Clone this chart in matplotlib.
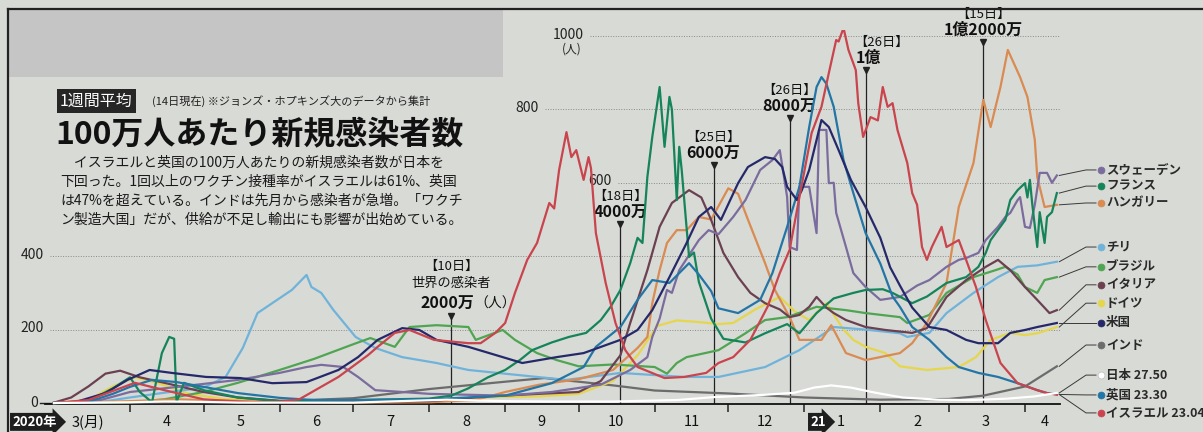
import numpy as np
import pandas as pd
import matplotlib
matplotlib.use("Agg")
import matplotlib.pyplot as plt
import matplotlib.dates as mdates
from matplotlib.patches import Rectangle

plt.rcParams['font.family'] = ['Noto Sans CJK JP', 'DejaVu Sans']

W, H = 1203, 432
BG = '#d8dad6'

# ---- data: 1-week average of new cases per million ----
israel_d = ["2020-03-01", "2020-03-15", "2020-04-03", "2020-04-15", "2020-05-01", "2020-05-20", "2020-06-01",
            "2020-06-09", "2020-06-25", "2020-07-07", "2020-07-11", "2020-07-18", "2020-07-24", "2020-08-03",
            "2020-08-17", "2020-08-22", "2020-08-28", "2020-09-01", "2020-09-05", "2020-09-10", "2020-09-14",
            "2020-09-19", "2020-09-21", "2020-09-23", "2020-09-26", "2020-09-28", "2020-09-30", "2020-10-03",
            "2020-10-05", "2020-10-06", "2020-10-08", "2020-10-12", "2020-10-16", "2020-10-20", "2020-10-25",
            "2020-11-05", "2020-11-13", "2020-11-22", "2020-11-27", "2020-12-03", "2020-12-10", "2020-12-17",
            "2020-12-22", "2020-12-26", "2020-12-30", "2021-01-04", "2021-01-08", "2021-01-11", "2021-01-14",
            "2021-01-15", "2021-01-17", "2021-01-19", "2021-01-22", "2021-01-23", "2021-01-25", "2021-01-28",
            "2021-01-31", "2021-02-02", "2021-02-04", "2021-02-06", "2021-02-08", "2021-02-12", "2021-02-14",
            "2021-02-16", "2021-02-18", "2021-02-20", "2021-02-22", "2021-02-26", "2021-02-28", "2021-03-05",
            "2021-03-08", "2021-03-12", "2021-03-16", "2021-03-22", "2021-03-29", "2021-04-06", "2021-04-10",
            "2021-04-14"]
israel_v = [0, 8, 55, 35, 10, 2, 3,
            10, 71, 130, 153, 191, 199, 172,
            163, 163, 191, 218, 300, 390, 436,
            545, 530, 635, 738, 670, 689, 608,
            670, 640, 463, 327, 218, 144, 98,
            68, 71, 82, 109, 125, 172, 262,
            354, 417, 561, 736, 807, 899, 989,
            985, 1022, 962, 907, 817, 725, 779,
            770, 861, 807, 817, 744, 654, 572,
            540, 425, 390, 425, 480, 425, 444,
            390, 316, 226, 109, 54, 35, 27,
            23.04]

uk_d = ["2020-03-01", "2020-03-15", "2020-03-25", "2020-04-01", "2020-04-10", "2020-04-20", "2020-05-01",
        "2020-05-15", "2020-06-01", "2020-06-15", "2020-07-01", "2020-08-01", "2020-09-01", "2020-09-20",
        "2020-10-03", "2020-10-08", "2020-10-18", "2020-10-25", "2020-10-31", "2020-11-07", "2020-11-15",
        "2020-11-19", "2020-11-24", "2020-11-27", "2020-12-05", "2020-12-14", "2020-12-19", "2020-12-25",
        "2020-12-30", "2021-01-03", "2021-01-06", "2021-01-08", "2021-01-10", "2021-01-13", "2021-01-17",
        "2021-01-21", "2021-01-26", "2021-02-01", "2021-02-06", "2021-02-09", "2021-02-14", "2021-02-21",
        "2021-02-28", "2021-03-05", "2021-03-13", "2021-03-21", "2021-03-29", "2021-04-06", "2021-04-10",
        "2021-04-14"]
uk_v = [0, 3, 25, 44, 63, 57, 44,
        27, 14, 8, 8, 10, 20, 54,
        98, 153, 207, 281, 335, 327, 381,
        350, 305, 258, 245, 281, 354, 480,
        589, 752, 861, 888, 870, 807, 662,
        572, 463, 380, 290, 262, 207, 172,
        125, 98, 82, 71, 54, 35, 27,
        23.3]

japan_d = ["2020-03-01", "2020-04-01", "2020-04-15", "2020-05-01", "2020-05-15", "2020-07-01", "2020-07-20",
           "2020-08-08", "2020-09-01", "2020-09-20", "2020-10-15", "2020-11-10", "2020-11-25", "2020-12-15",
           "2020-12-28", "2021-01-05", "2021-01-12", "2021-01-20", "2021-01-30", "2021-02-10", "2021-02-25",
           "2021-03-10", "2021-03-25", "2021-04-05", "2021-04-14"]
japan_v = [0, 2, 4, 3, 1, 1, 5,
           9, 5, 4, 4, 8, 16, 22,
           28, 42, 48, 42, 28, 15, 9,
           8, 12, 18, 27.5]

india_d = ["2020-03-01", "2020-04-01", "2020-05-01", "2020-06-01", "2020-07-01", "2020-08-01", "2020-09-01",
           "2020-09-17", "2020-10-01", "2020-10-15", "2020-11-01", "2020-12-01", "2021-01-01", "2021-02-01",
           "2021-03-01", "2021-03-15", "2021-04-01", "2021-04-14"]
india_v = [0, 1, 2, 5, 13, 38, 58,
           68, 58, 48, 34, 26, 15, 9,
           11, 20, 45, 100]

chile_d = ["2020-03-01", "2020-03-20", "2020-04-01", "2020-04-15", "2020-05-01", "2020-05-10", "2020-05-17",
           "2020-05-23", "2020-05-29", "2020-06-06", "2020-06-12", "2020-06-14", "2020-06-18", "2020-06-23",
           "2020-07-02", "2020-07-10", "2020-07-21", "2020-08-04", "2020-08-17", "2020-09-14", "2020-09-26",
           "2020-10-18", "2020-11-13", "2020-11-27", "2020-12-16", "2020-12-30", "2021-01-13", "2021-01-26",
           "2021-02-09", "2021-02-12", "2021-02-21", "2021-02-28", "2021-03-11", "2021-03-21", "2021-03-29",
           "2021-04-06", "2021-04-14"]
chile_v = [0, 3, 15, 28, 42, 71, 150,
           245, 272, 308, 349, 316, 300, 253,
           180, 150, 125, 109, 90, 71, 63,
           82, 71, 71, 98, 144, 207, 200,
           190, 180, 191, 245, 300, 343, 371,
           375, 385]

brazil_d = ["2020-03-01", "2020-04-01", "2020-04-15", "2020-05-01", "2020-05-15", "2020-06-01", "2020-06-15",
            "2020-07-01", "2020-07-08", "2020-07-18", "2020-07-24", "2020-08-04", "2020-08-17", "2020-08-20",
            "2020-08-31", "2020-09-05", "2020-09-14", "2020-09-22", "2020-10-01", "2020-10-15", "2020-11-01",
            "2020-11-06", "2020-11-10", "2020-11-14", "2020-11-27", "2020-12-08", "2020-12-16", "2020-12-25",
            "2021-01-06", "2021-01-18", "2021-01-26", "2021-02-09", "2021-02-12", "2021-02-21", "2021-02-28",
            "2021-03-11", "2021-03-20", "2021-03-24", "2021-03-29", "2021-04-01", "2021-04-06", "2021-04-09",
            "2021-04-14"]
brazil_v = [0, 2, 10, 30, 55, 90, 120,
            160, 177, 153, 207, 212, 207, 172,
            199, 172, 136, 117, 100, 105, 98,
            80, 109, 125, 144, 190, 226, 234,
            262, 253, 245, 234, 218, 240, 300,
            343, 362, 371, 350, 316, 300, 335,
            343]

germany_d = ["2020-03-01", "2020-03-15", "2020-03-25", "2020-04-03", "2020-04-12", "2020-04-25", "2020-05-10",
             "2020-06-01", "2020-07-01", "2020-08-01", "2020-08-20", "2020-09-15", "2020-10-01", "2020-10-15",
             "2020-10-25", "2020-11-02", "2020-11-10", "2020-11-20", "2020-11-27", "2020-12-03", "2020-12-12",
             "2020-12-22", "2020-12-28", "2021-01-03", "2021-01-10", "2021-01-17", "2021-01-21", "2021-01-26",
             "2021-02-03", "2021-02-09", "2021-02-20", "2021-03-05", "2021-03-12", "2021-03-18", "2021-03-26",
             "2021-04-01", "2021-04-06", "2021-04-14"]
germany_v = [0, 8, 45, 70, 55, 25, 10,
             6, 5, 8, 15, 18, 25, 60,
             130, 210, 225, 220, 215, 218, 255,
             289, 250, 226, 272, 200, 172, 153,
             136, 100, 90, 98, 125, 172, 191,
             185, 190, 207]

italy_d = ["2020-03-01", "2020-03-08", "2020-03-15", "2020-03-22", "2020-03-28", "2020-04-05", "2020-04-15",
           "2020-05-01", "2020-05-15", "2020-06-01", "2020-07-01", "2020-08-01", "2020-08-25", "2020-09-15",
           "2020-10-01", "2020-10-10", "2020-10-18", "2020-10-22", "2020-10-29", "2020-11-03", "2020-11-08",
           "2020-11-15", "2020-11-20", "2020-11-24", "2020-11-29", "2020-12-05", "2020-12-10", "2020-12-16",
           "2020-12-22", "2020-12-26", "2020-12-30", "2021-01-03", "2021-01-06", "2021-01-10", "2021-01-13",
           "2021-01-18", "2021-01-26", "2021-02-03", "2021-02-14", "2021-02-20", "2021-02-28", "2021-03-08",
           "2021-03-16", "2021-03-21", "2021-03-26", "2021-04-01", "2021-04-06", "2021-04-11", "2021-04-14"]
italy_v = [1, 15, 45, 80, 88, 70, 55,
           30, 15, 6, 3, 5, 18, 25,
           30, 60, 130, 218, 362, 480, 545,
           580, 560, 499, 409, 343, 300, 272,
           255, 234, 240, 262, 289, 260, 245,
           226, 207, 199, 191, 204, 289, 335,
           371, 390, 362, 316, 281, 245, 253]

sweden_d = ["2020-03-01", "2020-03-20", "2020-04-01", "2020-04-15", "2020-05-01", "2020-05-15", "2020-06-01",
            "2020-06-12", "2020-06-18", "2020-06-27", "2020-07-03", "2020-07-10", "2020-08-01", "2020-09-01",
            "2020-09-20", "2020-10-10", "2020-10-22", "2020-10-29", "2020-10-31", "2020-11-03", "2020-11-06",
            "2020-11-08", "2020-11-11", "2020-11-19", "2020-11-23", "2020-11-27", "2020-12-03", "2020-12-08",
            "2020-12-14", "2020-12-19", "2020-12-22", "2020-12-25", "2020-12-26", "2020-12-29", "2020-12-30",
            "2021-01-03", "2021-01-06", "2021-01-07", "2021-01-10", "2021-01-11", "2021-01-13", "2021-01-14",
            "2021-01-18", "2021-01-21", "2021-01-26", "2021-02-01", "2021-02-09", "2021-02-16", "2021-02-21",
            "2021-02-28", "2021-03-05", "2021-03-08", "2021-03-13", "2021-03-16", "2021-03-21", "2021-03-24",
            "2021-03-26", "2021-03-29", "2021-03-30", "2021-04-01", "2021-04-03", "2021-04-05", "2021-04-07",
            "2021-04-10", "2021-04-12", "2021-04-14"]
sweden_v = [0, 8, 30, 40, 52, 63, 82,
            98, 104, 98, 71, 35, 25, 20,
            30, 50, 90, 125, 180, 230, 308,
            300, 362, 444, 471, 460, 507, 553,
            635, 662, 689, 561, 425, 417, 589,
            589, 463, 744, 744, 599, 600, 518,
            425, 354, 316, 281, 289, 320, 335,
            371, 390, 395, 409, 444, 480, 507,
            518, 553, 561, 480, 477, 540, 627,
            627, 600, 620]

france_d = ["2020-03-01", "2020-03-15", "2020-03-25", "2020-04-01", "2020-04-05", "2020-04-10", "2020-04-12",
            "2020-04-14", "2020-04-17", "2020-04-19", "2020-04-20", "2020-04-23", "2020-05-01", "2020-05-15",
            "2020-06-01", "2020-07-01", "2020-08-01", "2020-08-10", "2020-08-17", "2020-08-25", "2020-09-01",
            "2020-09-07", "2020-09-12", "2020-09-20", "2020-09-27", "2020-10-04", "2020-10-10", "2020-10-14",
            "2020-10-18", "2020-10-22", "2020-10-25", "2020-10-27", "2020-10-29", "2020-10-31", "2020-11-03",
            "2020-11-05", "2020-11-07", "2020-11-08", "2020-11-10", "2020-11-11", "2020-11-12", "2020-11-15",
            "2020-11-17", "2020-11-19", "2020-11-24", "2020-11-29", "2020-12-08", "2020-12-16", "2020-12-25",
            "2020-12-30", "2021-01-06", "2021-01-13", "2021-01-21", "2021-01-26", "2021-02-02", "2021-02-06",
            "2021-02-14", "2021-02-20", "2021-02-28", "2021-03-08", "2021-03-13", "2021-03-16", "2021-03-18",
            "2021-03-24", "2021-03-26", "2021-03-29", "2021-04-01", "2021-04-02", "2021-04-03", "2021-04-04",
            "2021-04-06", "2021-04-07", "2021-04-09", "2021-04-10", "2021-04-12", "2021-04-14"]
france_v = [0, 5, 40, 70, 30, 2, 70,
            136, 180, 175, 3, 55, 35, 15,
            5, 8, 12, 20, 40, 70, 90,
            117, 144, 165, 180, 191, 226, 262,
            308, 381, 450, 436, 616, 725, 861,
            698, 834, 800, 553, 698, 635, 398,
            410, 330, 230, 175, 165, 190, 215,
            190, 245, 285, 300, 308, 310, 300,
            272, 290, 327, 343, 371, 409, 444,
            499, 553, 580, 599, 560, 608, 540,
            425, 520, 436, 507, 520, 572]

us_d = ["2020-03-01", "2020-03-09", "2020-03-22", "2020-03-31", "2020-04-09", "2020-04-18", "2020-05-02",
        "2020-05-16", "2020-05-29", "2020-06-12", "2020-06-25", "2020-07-03", "2020-07-11", "2020-07-21",
        "2020-07-28", "2020-08-04", "2020-08-17", "2020-08-31", "2020-09-08", "2020-09-22", "2020-10-03",
        "2020-10-18", "2020-10-25", "2020-10-31", "2020-11-07", "2020-11-14", "2020-11-19", "2020-11-24",
        "2020-11-28", "2020-12-05", "2020-12-09", "2020-12-16", "2020-12-20", "2020-12-23", "2020-12-25",
        "2020-12-29", "2020-12-31", "2021-01-03", "2021-01-07", "2021-01-08", "2021-01-11", "2021-01-15",
        "2021-01-20", "2021-01-26", "2021-02-01", "2021-02-05", "2021-02-09", "2021-02-14", "2021-02-21",
        "2021-02-28", "2021-03-08", "2021-03-13", "2021-03-21", "2021-03-26", "2021-04-01", "2021-04-06",
        "2021-04-14"]
us_v = [0, 1, 27, 63, 90, 82, 71,
        68, 54, 57, 90, 125, 172, 204,
        199, 172, 153, 125, 109, 125, 136,
        172, 199, 253, 343, 436, 507, 534,
        499, 599, 643, 670, 665, 643, 589,
        553, 580, 635, 744, 771, 752, 689,
        608, 534, 450, 370, 320, 260, 207,
        199, 172, 163, 163, 191, 199, 207,
        218]

hungary_d = ["2020-03-01", "2020-04-01", "2020-04-20", "2020-05-01", "2020-06-01", "2020-07-01", "2020-08-01",
             "2020-08-20", "2020-09-01", "2020-09-15", "2020-10-01", "2020-10-15", "2020-10-25", "2020-10-29",
             "2020-10-31", "2020-11-03", "2020-11-06", "2020-11-10", "2020-11-14", "2020-11-19", "2020-11-24",
             "2020-12-01", "2020-12-05", "2020-12-09", "2020-12-16", "2020-12-20", "2020-12-26", "2020-12-30",
             "2021-01-08", "2021-01-12", "2021-01-18", "2021-01-26", "2021-02-09", "2021-02-14", "2021-02-20",
             "2021-02-28", "2021-03-05", "2021-03-11", "2021-03-15", "2021-03-18", "2021-03-20", "2021-03-22",
             "2021-03-25", "2021-03-30", "2021-04-02", "2021-04-05", "2021-04-06", "2021-04-09", "2021-04-14"]
hungary_v = [0, 5, 10, 8, 3, 1, 2,
             8, 30, 50, 65, 90, 150, 180,
             272, 362, 436, 471, 471, 507, 500,
             585, 570, 500, 381, 308, 234, 172,
             172, 212, 136, 117, 136, 163, 218,
             327, 534, 654, 826, 752, 807, 861,
             962, 888, 834, 717, 616, 534, 540]

# name, dates, values, colour, label y (people scale, only for layout)
countries = [
    ("スウェーデン", sweden_d, sweden_v, "#7b6c9e", 635),
    ("フランス", france_d, france_v, "#15845a", 591),
    ("ハンガリー", hungary_d, hungary_v, "#d98b52", 545),
    ("チリ", chile_d, chile_v, "#70b3da", 425),
    ("ブラジル", brazil_d, brazil_v, "#4fa552", 371),
    ("イタリア", italy_d, italy_v, "#6b4050", 322),
    ("ドイツ", germany_d, germany_v, "#e5d64c", 272),
    ("米国", us_d, us_v, "#25296a", 218),
    ("インド", india_d, india_v, "#6c6c6c", 158),
    ("日本 27.50", japan_d, japan_v, "#ffffff", 76),
    ("英国 23.30", uk_d, uk_v, "#2275a5", 22),
    ("イスラエル 23.04", israel_d, israel_v, "#c9444d", -27),
]
draw_order = ["インド", "ドイツ", "チリ", "ブラジル", "ハンガリー", "イタリア", "スウェーデン",
              "フランス", "英国 23.30", "米国", "イスラエル 23.04", "日本 27.50"]

events_d = ["2020-08-10", "2020-10-18", "2020-11-25", "2020-12-26", "2021-01-26", "2021-03-15"]
events_day = ["【10日】", "【18日】", "【25日】", "【26日】", "【26日】", "【15日】"]
events_total = ["2000万", "4000万", "6000万", "8000万", "1億", "1億2000万"]
events_top = [237, 488, 649, 777, 907, 984]

month_starts = pd.date_range("2020-04-01", "2021-04-01", freq="MS")
month_labels = ["4", "5", "6", "7", "8", "9", "10", "11", "12", "1", "2", "3"]

# ---- mapping between reference pixels and data (for layout only) ----
APR1 = mdates.date2num(pd.Timestamp("2020-04-01"))
PX_PER_DAY = 2.452


def px2x(p):
    return APR1 + (p - 130) / PX_PER_DAY


def fig_text(px, py, s, **kw):
    return fig.text(px / W, 1 - py / H, s, **kw)


fig = plt.figure(figsize=(W / 100, H / 100), dpi=100, facecolor=BG)
ax = fig.add_axes([45 / W, (H - 405) / H, (1060 - 45) / W, (405 - 30) / H])
ax.set_facecolor(BG)
ax.set_xlim(px2x(45), px2x(1060))
ax.set_ylim((403 - 405) / 0.367, (403 - 30) / 0.367)

# frame + grey box in the top-left corner
fig.patches.append(Rectangle((9 / W, 1 - 77 / H), (503 - 9) / W, (77 - 9) / H,
                             transform=fig.transFigure, fc="#c5c5c5", ec="none", zorder=0))
fig.add_artist(plt.Line2D([8 / W, 1], [1 - 9 / H, 1 - 9 / H], color="#222222", lw=1.6))
fig.add_artist(plt.Line2D([8 / W, 8 / W], [0, 1 - 9 / H], color="#222222", lw=1.6))

# y grid (dotted) and labels
grid_vals = [200, 400, 600, 800, 1000]
grid_start = [50, 50, 618, 545, 590]
for v, s in zip(grid_vals, grid_start):
    ax.plot([px2x(s), px2x(1060)], [v, v], color="#8a8a8a", lw=0.7, ls=(0, (1, 1.6)), zorder=1)
    ax.text(px2x(s - 6), v + 4, str(v), ha="right", va="center", fontsize=10, color="#222222", clip_on=False)
ax.text(px2x(572), 1000 - 36, "(人)", ha="center", va="center", fontsize=8.5, color="#222222")
ax.plot([px2x(40), px2x(52)], [0, 0], color="#222222", lw=1.0, clip_on=False)
ax.text(px2x(38), 0, "0", ha="right", va="center", fontsize=10, color="#222222", clip_on=False)

# event markers
for d, day, tot, top in zip(events_d, events_day, events_total, events_top):
    x = mdates.date2num(pd.Timestamp(d))
    ax.plot([x, x], [0, top], color="#222222", lw=0.9, zorder=2)
    ax.plot(x, top, marker="v", ms=4, color="#222222", zorder=2)
    if day == "【10日】":
        ax.annotate("2000万", (x, top), xytext=(17, 4), textcoords="offset points", ha="right", va="bottom",
                    fontsize=11.5, fontweight="bold", color="#111111")
        ax.annotate("（人）", (x, top), xytext=(17, 4), textcoords="offset points", ha="left", va="bottom",
                    fontsize=10, color="#111111")
        ax.annotate("世界の感染者", (x, top), xytext=(0, 19), textcoords="offset points", ha="center",
                    va="bottom", fontsize=9.5, color="#111111")
        ax.annotate(day, (x, top), xytext=(0, 31), textcoords="offset points", ha="center", va="bottom",
                    fontsize=9.5, color="#111111")
        continue
    ha = "left" if tot == "1億" else "center"
    ax.annotate(tot, (x, top), xytext=(-7 if ha == "left" else 0, 3), textcoords="offset points", ha=ha,
                va="bottom", fontsize=11.5, fontweight="bold", color="#111111")
    ax.annotate(day, (x, top), xytext=(-8 if ha == "left" else 0, 15), textcoords="offset points", ha=ha,
                va="bottom", fontsize=9.5, color="#111111")

# series
lookup = {c[0]: c for c in countries}
for name in draw_order:
    _, d, v, col, _ = lookup[name]
    ax.plot(pd.to_datetime(d), v, color=col, lw=1.6, solid_joinstyle="round", zorder=3)

# leader lines + legend labels at the right
for name, d, v, col, ly in countries:
    x_end = mdates.date2num(pd.Timestamp(d[-1]))
    ax.plot([x_end + 1, px2x(1086), px2x(1096)], [v[-1], ly, ly], color="#3a3a3a", lw=0.7,
            clip_on=False, zorder=4)
    ax.plot(px2x(1101), ly, "o", ms=5, color=col, mec="#bbbbbb" if col == "#ffffff" else col, mew=0.5,
            clip_on=False, zorder=5)
    ax.text(px2x(1106), ly, name, ha="left", va="center", fontsize=9, fontweight="bold",
            color="#2a2a2a", clip_on=False)

# x axis
for s in ["top", "right", "left"]:
    ax.spines[s].set_visible(False)
ax.spines["bottom"].set_color("#111111")
ax.spines["bottom"].set_linewidth(1.3)
ax.spines["bottom"].set_position(("data", -2))
ax.set_yticks([])
ax.set_xticks(mdates.date2num(month_starts))
ax.set_xticklabels([])
ax.tick_params(axis="x", direction="out", length=6, width=1.1, color="#222222")

trans = ax.get_xaxis_transform()
for ms_, lab in zip(month_starts[:-1], month_labels):
    xc = mdates.date2num(ms_) + 15
    ax.text(xc, -0.045, lab, transform=trans, ha="center", va="center", fontsize=10.5, color="#111111")
ax.text(mdates.date2num(pd.Timestamp("2020-03-15")), -0.045, "3(月)", transform=trans, ha="center",
        va="center", fontsize=10.5, color="#111111")
ax.text(mdates.date2num(pd.Timestamp("2021-04-09")), -0.045, "4", transform=trans, ha="center",
        va="center", fontsize=10.5, color="#111111")
ax.text(px2x(12), -0.045, "2020年", transform=trans, ha="left", va="center", fontsize=9.5,
        color="white", fontweight="bold", clip_on=False,
        bbox=dict(boxstyle="rarrow,pad=0.15", fc="#1e1e1e", ec="none"))
ax.text(px2x(810), -0.045, "21", transform=trans, ha="left", va="center", fontsize=9.5,
        color="white", fontweight="bold", bbox=dict(boxstyle="rarrow,pad=0.15", fc="#1e1e1e", ec="none"))

# heading block
fig_text(60, 101, "1週間平均", ha="left", va="center", fontsize=11.5, color="white",
         bbox=dict(boxstyle="square,pad=0.2", fc="#262626", ec="none"))
fig_text(152, 101, "(14日現在) ※ジョンズ・ホプキンズ大のデータから集計", ha="left", va="center",
         fontsize=8, color="#222222")
fig_text(55, 135, "100万人あたり新規感染者数", ha="left", va="center", fontsize=23,
         fontweight="bold", color="#111111")
body = ["　イスラエルと英国の100万人あたりの新規感染者数が日本を",
        "下回った。1回以上のワクチン接種率がイスラエルは61%、英国",
        "は47%を超えている。インドは先月から感染者が急増。「ワクチ",
        "ン製造大国」だが、供給が不足し輸出にも影響が出始めている。"]
for i, line in enumerate(body):
    fig_text(60, 163 + 19 * i, line, ha="left", va="center", fontsize=10, color="#1a1a1a")

fig.savefig("out.png", dpi=100, facecolor=BG)
